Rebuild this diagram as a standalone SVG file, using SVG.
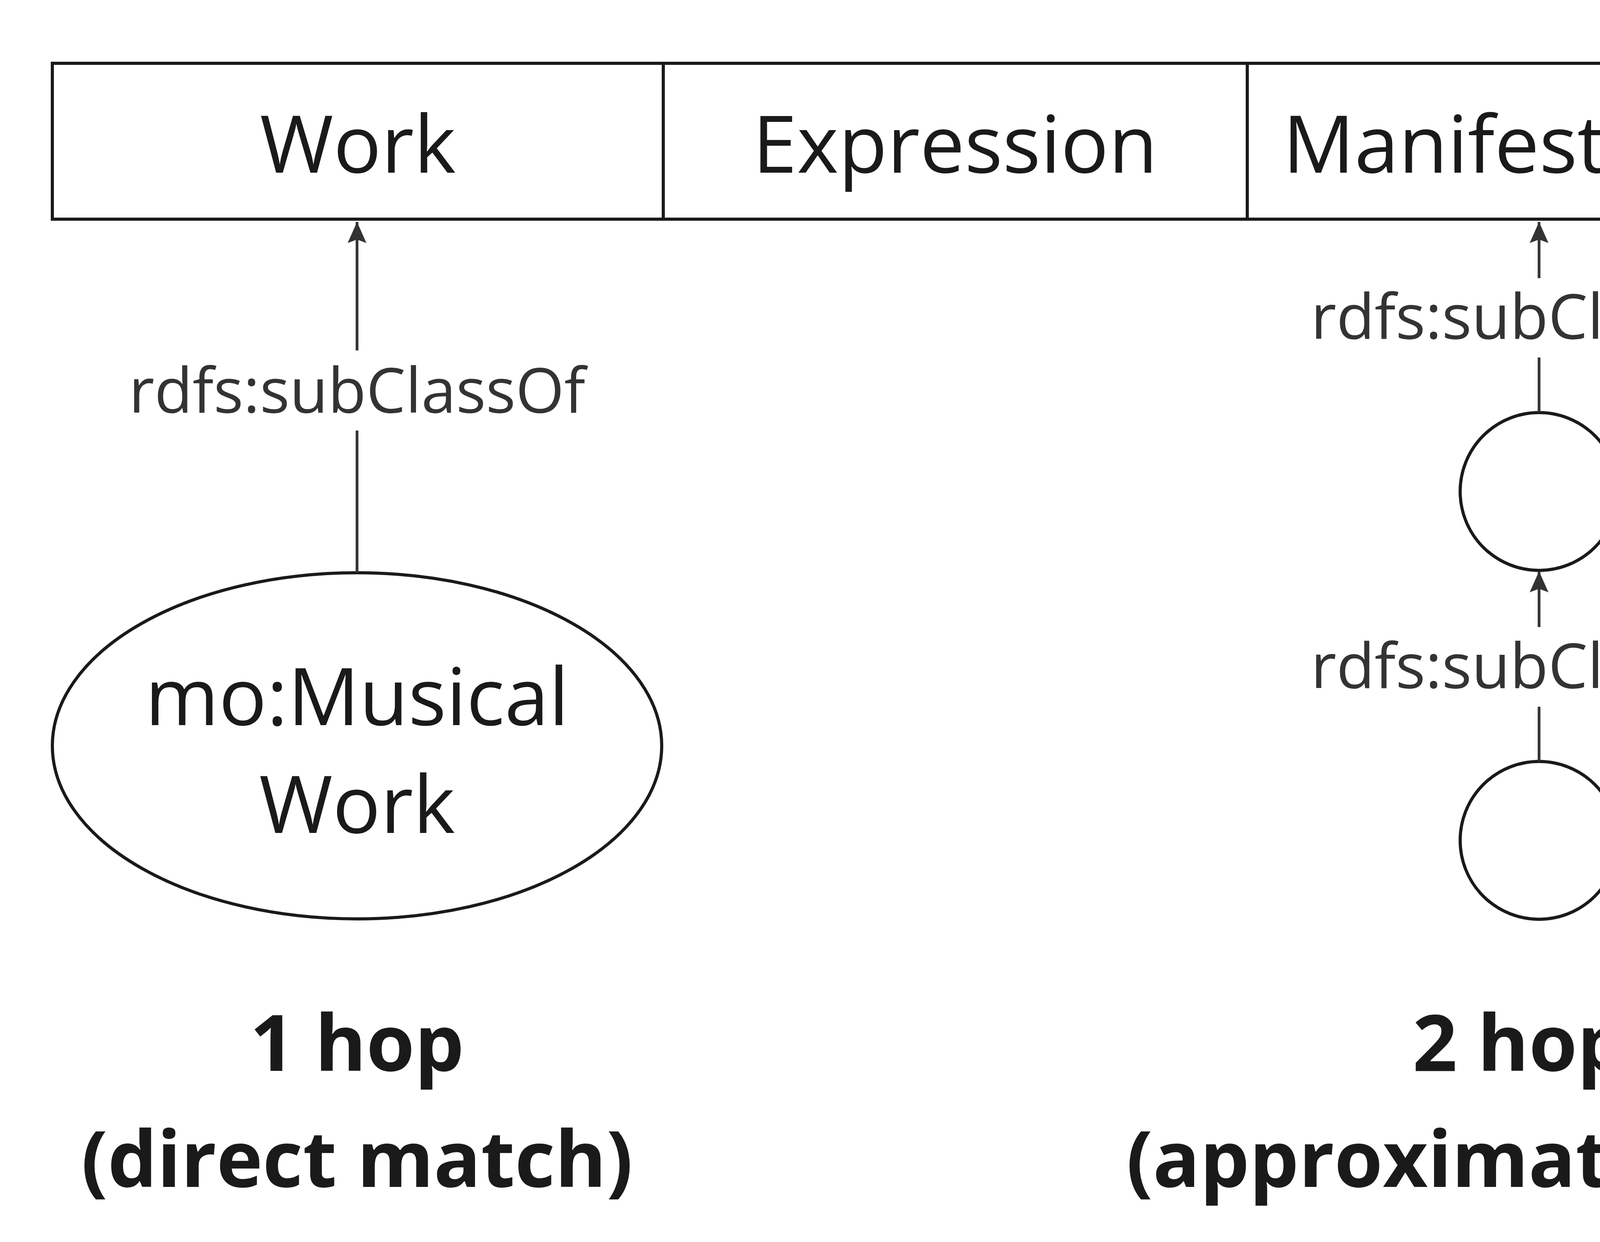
<svg xmlns="http://www.w3.org/2000/svg" width="6369" height="3179" viewBox="0 0 6369 3179">
<style>
.box{fill:#fff;stroke:#1a1a1a;stroke-width:8}
.t{font-family:"Open Sans","Noto Sans",sans-serif;font-size:204px;fill:#1a1a1a;text-anchor:middle}
.l{font-family:"Open Sans","Noto Sans",sans-serif;font-size:160px;fill:#333;text-anchor:middle}
.b{font-family:"Open Sans","Noto Sans",sans-serif;font-size:200px;font-weight:bold;fill:#1a1a1a;text-anchor:middle}
.e{stroke:#333;stroke-width:7;fill:none}
</style>
<defs><marker id="ar" markerWidth="10" markerHeight="10" refX="8" refY="5" orient="auto" markerUnits="userSpaceOnUse" viewBox="0 0 10 10"><path d="M0,0 L10,5 L0,10 L2,5 z" fill="#333"/></marker>
<marker id="a" viewBox="0 0 40 40" refX="38" refY="20" markerWidth="60" markerHeight="60" markerUnits="userSpaceOnUse" orient="auto"><path d="M2,4 L38,20 L2,36 L8,20 z" fill="#333"/></marker></defs>
<g id="work"><rect class="box" x="134" y="162" width="1564" height="399"/><text class="t" x="916" y="442">Work</text></g>
<g id="expression"><rect class="box" x="1698" y="162" width="1495" height="399"/><text class="t" x="2445" y="442">Expression</text></g>
<g id="manifestation"><rect class="box" x="3193" y="162" width="1495" height="399"/><text class="t" x="3940" y="442">Manifestation</text></g>
<g id="item"><rect class="box" x="4688" y="162" width="1559" height="399"/><text class="t" x="5467" y="442">Item</text></g>
<g id="musicalwork"><ellipse class="box" cx="914" cy="1909" rx="780" ry="443"/><text class="t" x="914" y="1856">mo:Musical</text><text class="t" x="914" y="2132">Work</text></g>
<g id="c1"><circle class="box" cx="3940" cy="1258" r="202"/></g>
<g id="c2"><circle class="box" cx="3940" cy="2151" r="202"/></g>
<g id="connectors">
<path class="e" d="M914,1466 V1102 M914,897 V568" marker-end="url(#a)"/>
<text class="l" x="914" y="1056">rdfs:subClassOf</text>
<path class="e" d="M3940,1055 V915 M3940,712 V568" marker-end="url(#a)"/>
<text class="l" x="3940" y="867">rdfs:subClassOf</text>
<path class="e" d="M3940,1948 V1809 M3940,1605 V1462" marker-end="url(#a)"/>
<text class="l" x="3940" y="1761">rdfs:subClassOf</text>
</g>
<g id="captions">
<text class="b" x="914" y="2741">1 hop</text><text class="b" x="914" y="3038">(direct match)</text>
<text class="b" x="3940" y="2741">2 hops</text><text class="b" x="3940" y="3038">(approximate match)</text>
</g>
</svg>
